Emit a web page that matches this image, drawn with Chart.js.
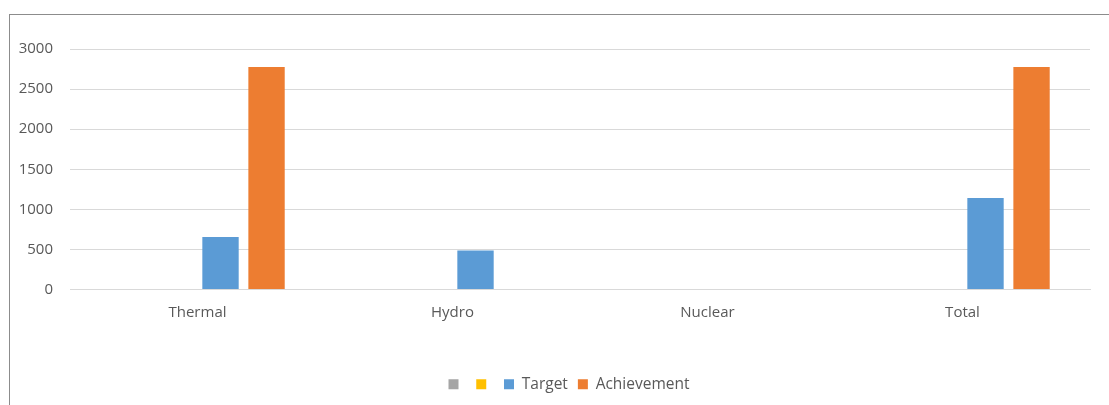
<!DOCTYPE html>
<html lang="en">
<head>
  <meta charset="UTF-8">
  <title>Target vs Achievement</title>
  <script src="https://cdn.jsdelivr.net/npm/chart.js"></script>
  <style>
    html, body { margin: 0; padding: 0; background: #fff; overflow: hidden; }
    #wrap { position: relative; width: 1109px; height: 405px; }
    #frame {
      position: absolute; left: 9px; top: 14px; width: 1120px; height: 420px;
      border-top: 1px solid #8c8c8c; border-left: 1px solid #8c8c8c;
      pointer-events: none;
    }
  </style>
</head>
<body>
  <div id="wrap">
    <canvas id="myChart" width="1109" height="405"></canvas>
    <div id="frame"></div>
  </div>

<script>
  // categories and series
  var categories = ['Thermal', 'Hydro', 'Nuclear', 'Total']
  var blank1 = [null, null, null, null]
  var blank2 = [null, null, null, null]
  var target = [655, 485, null, 1140]
  var achievement = [2775, null, null, 2775]
  var yTicks = [0, 500, 1000, 1500, 2000, 2500, 3000]

  var textColor = '#595959'
  var font = { family: "'Open Sans', sans-serif", size: 15 }

  // the original legend sits a bit right of centre
  var legendShift = {
    id: 'legendShift',
    afterLayout: function (chart) {
      chart.legend.left += 24
      chart.legend.right += 24
    }
  }

  new Chart(document.getElementById('myChart'), {
    type: 'bar',
    data: {
      labels: categories,
      datasets: [
        { label: '', data: blank1, backgroundColor: '#a5a5a5' },
        { label: '', data: blank2, backgroundColor: '#ffc000' },
        { label: 'Target', data: target, backgroundColor: '#5b9bd5' },
        { label: 'Achievement', data: achievement, backgroundColor: '#ed7d31' }
      ]
    },
    options: {
      responsive: false,
      animation: false,
      layout: { padding: { left: 0, right: 19, top: 49, bottom: 3 } },
      datasets: {
        bar: { categoryPercentage: 0.722, barPercentage: 0.79 }
      },
      plugins: {
        tooltip: { enabled: false },
        legend: {
          position: 'bottom',
          labels: {
            boxWidth: 10, boxHeight: 10, padding: 10,
            color: textColor, font: { family: font.family, size: 15.5 }
          }
        }
      },
      scales: {
        x: {
          grid: { display: false, drawTicks: false },
          border: { color: '#d9d9d9', width: 1 },
          ticks: { color: textColor, font: font, padding: 14, maxRotation: 0 },
          afterFit: function (axis) { axis.height = 77 }
        },
        y: {
          min: 0, max: 3000,
          afterBuildTicks: function (axis) { axis.ticks = yTicks.map(v => ({ value: v })) },
          grid: { color: '#d9d9d9', lineWidth: 1, drawTicks: false },
          border: { display: false },
          ticks: {
            color: textColor, font: font, padding: 17,
            callback: function (v) { return String(v) }
          },
          afterFit: function (axis) { axis.width = 70 }
        }
      }
    },
    plugins: [legendShift]
  });
</script>
</body>
</html>
